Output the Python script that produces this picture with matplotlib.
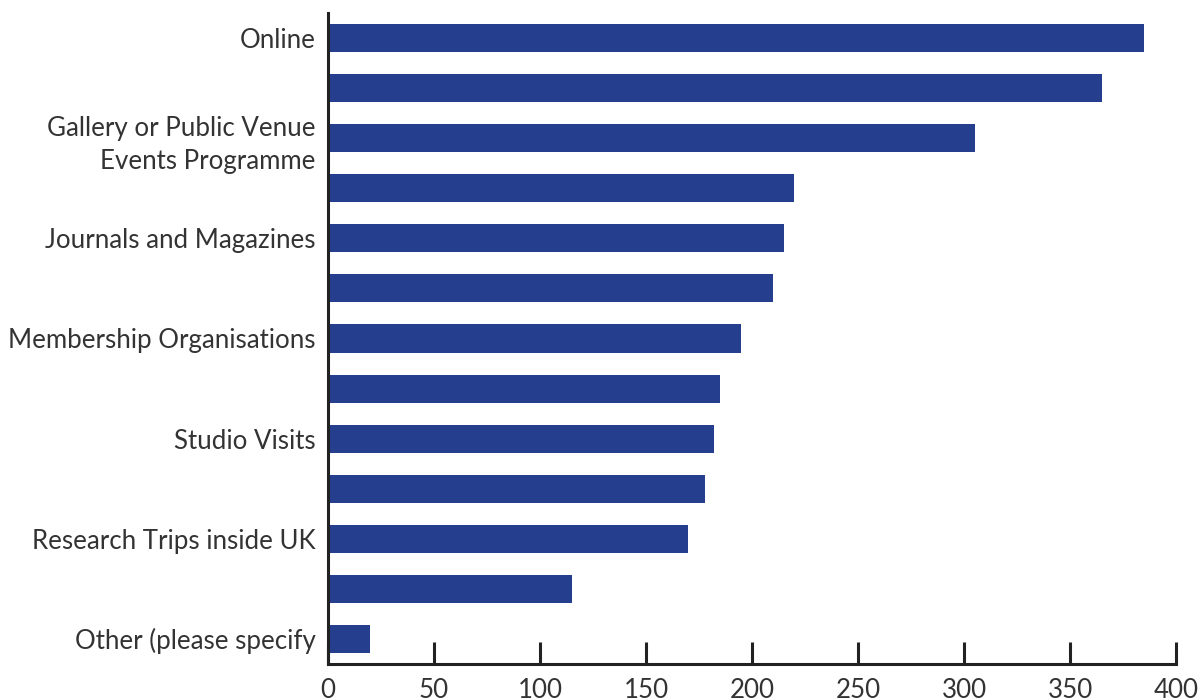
import matplotlib.pyplot as plt

# Categories (top to bottom); unlabeled rows in the reference are left blank
categories = ['Online', '', 'Gallery or Public Venue\nEvents Programme', '',
              'Journals and Magazines', '', 'Membership Organisations', '',
              'Studio Visits', '', 'Research Trips inside UK', '',
              'Other (please specify']
values = [385, 365, 305, 220, 215, 210, 195, 185, 182, 178, 170, 115, 20]
xticks = [0, 50, 100, 150, 200, 250, 300, 350, 400]

bar_color = '#253f8e'
text_color = '#333333'

plt.rcParams['font.family'] = ['Lato', 'DejaVu Sans']

fig = plt.figure(figsize=(12.03, 6.99), dpi=100)
ax = fig.add_axes([0.2727, 0.0501, 0.7049, 0.9313])

pos = list(range(len(categories)))
ax.barh(pos, values, height=0.56, color=bar_color)

ax.set_ylim(len(categories) - 0.5, -0.5)
ax.set_xlim(0, 400)
ax.set_yticks(pos)
ax.set_yticklabels(categories, fontsize=18.6, color=text_color, linespacing=1.4)
ax.set_xticks(xticks)
ax.set_xticklabels([str(t) for t in xticks], fontsize=18.6, color=text_color)

ax.tick_params(axis='y', length=0, pad=9)
ax.tick_params(axis='x', direction='in', length=16, width=2.2,
               color='#222222', pad=10)

for side in ['top', 'right']:
    ax.spines[side].set_visible(False)
for side in ['left', 'bottom']:
    ax.spines[side].set_linewidth(2.2)
    ax.spines[side].set_color('#222222')

fig.savefig('out.png', dpi=100)
